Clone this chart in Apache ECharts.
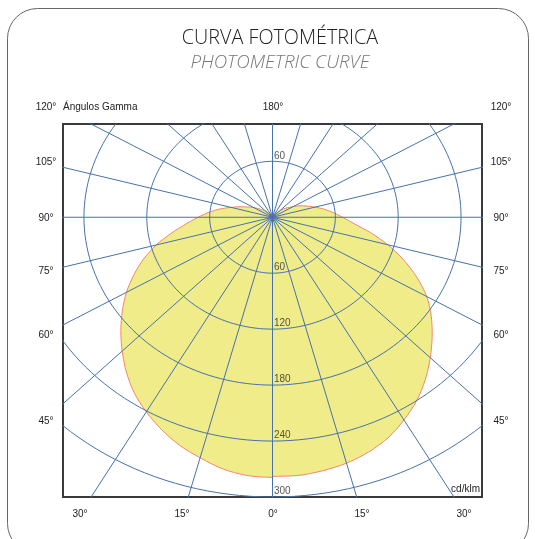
<!DOCTYPE html>
<html><head><meta charset="utf-8">
<script src="https://cdn.jsdelivr.net/npm/echarts@6/dist/echarts.min.js"></script>
<style>html,body{margin:0;padding:0;background:#fff}#c{width:535px;height:539px}</style>
</head><body><div id="c"></div>
<script>
// ---- data ----
const gammaAngles = [0,5,10,15,20,25,30,35,40,45,50,55,60,65,70,75,80,85,90,95,100,105,110,115,120,125,130,135,140,145,150,155,160,165,170,175,180];
// C0 half (right side), cd/klm
const intensityRight = [278,278,276,273,268,261,251,240,227,213,199,185,170,152,133,114,95,78,67,58,50,42,35,29,23,18,14,9,6,4,3,2,1,0,0,0,0];
// C180 half (left side), cd/klm
const intensityLeft = [279,278,274,267,260,251,241,230,217,203,189,175,161,146,131,115,98,83,71,61,51,41,33,26,21,16,12,9,6,4,3,2,1,0,0,0,0];
const ringValues = [60,120,180,240,300];
const ringLabelValues = [60,-60,-120,-180,-240,-300];
const rayStepDeg = 15;
const sideTickLabels = ['120°','105°','90°','75°','60°','45°'];
const bottomTickLabels = ['30°','15°','0°','15°','30°'];
const topTickLabel = '180°';
const axisTitle = 'Ángulos Gamma';
const unitLabel = 'cd/klm';
const titleText = 'CURVA FOTOMÉTRICA';
const subtitleText = 'PHOTOMETRIC CURVE';

// ---- styling / layout ----
const gridColor = '#4672ab';
const labelFont = 'Liberation Sans, Arial, sans-serif';
const sideLabelY = [107,162,218,271,335,421];
const bottomLabelX = [80,182,273,362,464];

const chart = echarts.init(document.getElementById('c'));

const rad = d => d * Math.PI / 180;
const series = [];

// fill of photometric curve
series.push({
  type: 'custom', z: 1, silent: true, data: [0],
  renderItem: (params, api) => {
    const pts = [];
    gammaAngles.forEach((g, i) => {
      const r = intensityRight[i];
      pts.push(api.coord([r * Math.sin(rad(g)), -r * Math.cos(rad(g))]));
    });
    for (let i = gammaAngles.length - 1; i >= 0; i--) {
      const g = gammaAngles[i], r = intensityLeft[i];
      pts.push(api.coord([-r * Math.sin(rad(g)), -r * Math.cos(rad(g))]));
    }
    return { type: 'polygon', shape: { points: pts, smooth: 0.3 },
      style: { fill: '#f0ec8a', stroke: '#f2876a', lineWidth: 1 } };
  }
});

// rings
ringValues.forEach(v => {
  const d = [];
  for (let a = 0; a <= 360; a += 2) d.push([v * Math.sin(rad(a)), v * Math.cos(rad(a))]);
  series.push({ type: 'line', data: d, showSymbol: false, clip: true, silent: true, z: 3,
    lineStyle: { color: gridColor, width: 1 } });
});
// rays
for (let a = 0; a < 360; a += rayStepDeg) {
  series.push({ type: 'line', data: [[0, 0], [1000 * Math.sin(rad(a)), -1000 * Math.cos(rad(a))]],
    showSymbol: false, clip: true, silent: true, z: 3,
    lineStyle: { color: gridColor, width: 1 } });
}
// ring value labels
series.push({
  type: 'scatter', z: 4, silent: true, symbolSize: 1,
  itemStyle: { color: 'rgba(0,0,0,0)' },
  data: ringLabelValues.map(v => [0, v]),
  label: { show: true, position: [2, -10], formatter: p => String(Math.abs(p.value[1])),
    fontFamily: labelFont, fontSize: 10, color: '#2a2a2a' }
});

const graphic = [
  { type: 'rect', shape: { x: 7.5, y: 8.5, width: 521, height: 545, r: 30 },
    style: { fill: 'none', stroke: '#666', lineWidth: 1 }, z: 0 },
  { type: 'text', x: 280, y: 38.5, style: { text: titleText, fontFamily: 'Open Sans', fontWeight: 300,
    fontSize: 19.8, fill: '#222', textAlign: 'center', textVerticalAlign: 'middle' } },
  { type: 'text', x: 280, y: 63, style: { text: subtitleText, fontFamily: 'Open Sans', fontWeight: 300,
    fontStyle: 'italic', fontSize: 18.7, fill: '#777', textAlign: 'center', textVerticalAlign: 'middle' } },
  { type: 'text', x: 63, y: 107, style: { text: axisTitle, fontFamily: labelFont, fontSize: 10,
    fill: '#222', textAlign: 'left', textVerticalAlign: 'middle' } },
  { type: 'text', x: 273, y: 107, style: { text: topTickLabel, fontFamily: labelFont, fontSize: 10,
    fill: '#222', textAlign: 'center', textVerticalAlign: 'middle' } },
  { type: 'text', x: 480, y: 489, style: { text: unitLabel, fontFamily: labelFont, fontSize: 10,
    fill: '#222', textAlign: 'right', textVerticalAlign: 'middle' } }
];
sideTickLabels.forEach((t, i) => {
  [46, 501].forEach(x => graphic.push({ type: 'text', x: x, y: sideLabelY[i],
    style: { text: t, fontFamily: labelFont, fontSize: 10, fill: '#222', textAlign: 'center', textVerticalAlign: 'middle' } }));
});
bottomTickLabels.forEach((t, i) => {
  graphic.push({ type: 'text', x: bottomLabelX[i], y: 514,
    style: { text: t, fontFamily: labelFont, fontSize: 10, fill: '#222', textAlign: 'center', textVerticalAlign: 'middle' } });
});

chart.setOption({
  animation: false,
  grid: { left: 63, top: 124, width: 419, height: 373, show: true, borderColor: '#3a3a3a', borderWidth: 2 },
  xAxis: { type: 'value', min: -200, max: 200, show: false },
  yAxis: { type: 'value', min: -300, max: 100, show: false },
  graphic: graphic,
  series: series
});
</script></body></html>
